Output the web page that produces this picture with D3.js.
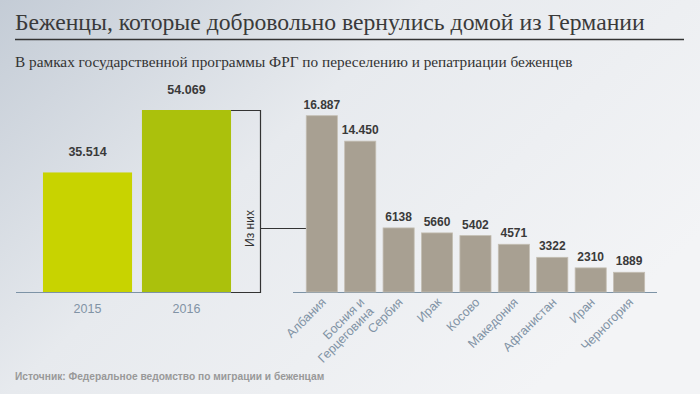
<!DOCTYPE html>
<html><head><meta charset="utf-8">
<script src="https://cdn.jsdelivr.net/npm/d3@7"></script>
<style>body{margin:0;padding:0;overflow:hidden}svg{display:block}</style>
</head><body>
<script>
const years = ["2015", "2016"];
const yearValues = [35514, 54069];
const yearLabels = ["35.514", "54.069"];
const yearColors = ["#c8d300", "#abc10c"];

const countries = ["Албания", "Босния и|Герцеговина", "Сербия", "Ирак", "Косово", "Македония", "Афганистан", "Иран", "Черногория"];
const countryValues = [16887, 14450, 6138, 5660, 5402, 4571, 3322, 2310, 1889];
const countryLabels = ["16.887", "14.450", "6138", "5660", "5402", "4571", "3322", "2310", "1889"];

const title = "Беженцы, которые добровольно вернулись домой из Германии";
const subtitle = "В рамках государственной программы ФРГ по переселению и репатриации беженцев";
const source = "Источник: Федеральное ведомство по миграции и беженцам";
const bracketLabel = "Из них";

const W = 700, H = 394;
const svg = d3.select("body").append("svg").attr("width", W).attr("height", H);
const defs = svg.append("defs");
const g = defs.append("linearGradient").attr("id","bg").attr("x1","0").attr("y1","0").attr("x2","1").attr("y2","0.6");
g.append("stop").attr("offset","0").attr("stop-color","#c4ccd6");
g.append("stop").attr("offset","0.45").attr("stop-color","#e7eaee");
g.append("stop").attr("offset","1").attr("stop-color","#f3f4f6");
svg.append("rect").attr("width",W).attr("height",H).attr("fill","url(#bg)");

svg.append("text").attr("x",15).attr("y",30).attr("font-family","Liberation Serif, serif")
  .attr("font-size",23.7).attr("fill","#3a3a3a").text(title);
svg.append("line").attr("x1",15).attr("x2",684).attr("y1",39.5).attr("y2",39.5)
  .attr("stroke","#333").attr("stroke-width",1.3);
svg.append("text").attr("x",15).attr("y",67).attr("font-family","Liberation Serif, serif")
  .attr("font-size",15.3).attr("fill","#333").text(subtitle);

const baseY = 292;
const axisColor = "#7d93a6";
const labelColor = "#8193a5";

// Left chart
const xL = d3.scaleBand().domain(years).range([40.5, 233.5]).paddingInner(0.1).paddingOuter(0.025);
const yL = d3.scaleLinear().domain([0, 54069]).range([baseY, 110]);
svg.append("line").attr("x1",16).attr("x2",xL("2016")+xL.bandwidth()).attr("y1",baseY+0.5).attr("y2",baseY+0.5)
  .attr("stroke",axisColor).attr("stroke-width",1);
svg.selectAll(".yb").data(years).join("rect")
  .attr("x", d=>xL(d)).attr("width", xL.bandwidth())
  .attr("y", (d,i)=>yL(yearValues[i])).attr("height",(d,i)=>baseY-yL(yearValues[i]))
  .attr("fill",(d,i)=>yearColors[i]);
svg.selectAll(".yl").data(years).join("text")
  .attr("x", d=>xL(d)+xL.bandwidth()/2).attr("y",(d,i)=>yL(yearValues[i])-16)
  .attr("text-anchor","middle").attr("font-family","Liberation Sans, Arial, sans-serif")
  .attr("font-weight","bold").attr("font-size",12.5).attr("fill","#3a3a3a").text((d,i)=>yearLabels[i]);
svg.selectAll(".yx").data(years).join("text")
  .attr("x", d=>xL(d)+xL.bandwidth()/2).attr("y",313)
  .attr("text-anchor","middle").attr("font-family","Liberation Sans, Arial, sans-serif")
  .attr("font-size",12.5).attr("fill",labelColor).text(d=>d);

// Right chart
const xR = d3.scaleBand().domain(countries).range([302.6, 648.3]).paddingInner(0.19).paddingOuter(0.095);
const yR = d3.scaleLinear().domain([0, 16887]).range([baseY, 115.7]);

// bracket
const bx0 = xL("2016")+xL.bandwidth(), bx = 260.5, bTop = yL(54069)+0.5;
const midY = 228.5;
svg.append("path").attr("d",`M${bx0},${bTop}H${bx}V${baseY+0.5}H${bx0}`).attr("fill","none")
  .attr("stroke","#333").attr("stroke-width",1.2);
svg.append("line").attr("x1",bx).attr("x2",xR(countries[0])).attr("y1",midY).attr("y2",midY)
  .attr("stroke","#333").attr("stroke-width",1.2);
svg.append("text").attr("transform",`translate(254,${midY}) rotate(-90)`).attr("text-anchor","middle")
  .attr("font-family","Liberation Sans, Arial, sans-serif").attr("font-size",12).attr("fill","#333").text(bracketLabel);

svg.append("line").attr("x1",293).attr("x2",657).attr("y1",baseY+0.5).attr("y2",baseY+0.5)
  .attr("stroke",axisColor).attr("stroke-width",1);
svg.selectAll(".cb").data(countries).join("rect")
  .attr("x", d=>xR(d)).attr("width", xR.bandwidth())
  .attr("y",(d,i)=>yR(countryValues[i])).attr("height",(d,i)=>baseY-yR(countryValues[i]))
  .attr("fill","#a8a092").attr("stroke","#c4beb3").attr("stroke-width",0.8);
svg.selectAll(".cl").data(countries).join("text")
  .attr("x", d=>xR(d)+xR.bandwidth()/2).attr("y",(d,i)=>yR(countryValues[i])-7)
  .attr("text-anchor","middle").attr("font-family","Liberation Sans, Arial, sans-serif")
  .attr("font-weight","bold").attr("font-size",12).attr("fill","#3a3a3a").text((d,i)=>countryLabels[i]);
const cx = svg.selectAll(".cx").data(countries).join("text")
  .attr("transform", d=>`translate(${xR(d)+xR.bandwidth()/2+5},${baseY+11}) rotate(-45)`)
  .attr("text-anchor","end").attr("font-family","Liberation Sans, Arial, sans-serif")
  .attr("font-size",12.5).attr("fill",labelColor);
cx.each(function(d){
  const parts = d.split("|");
  const t = d3.select(this);
  parts.forEach((p,i)=>{
    t.append("tspan").attr("x",0).attr("y", i*13).text(p);
  });
});

svg.append("text").attr("x",15).attr("y",380).attr("font-family","Liberation Sans, Arial, sans-serif")
  .attr("font-weight","bold").attr("font-size",10.2).attr("fill","#999").text(source);
</script>
</body></html>
